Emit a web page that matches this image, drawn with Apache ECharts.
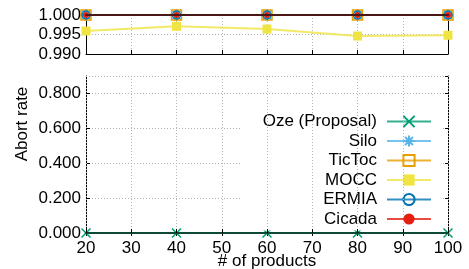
<!DOCTYPE html>
<html>
<head>
<meta charset="utf-8">
<script src="https://cdn.jsdelivr.net/npm/echarts@6/dist/echarts.min.js"></script>
<style>
  html, body { margin: 0; padding: 0; background: #fff; }
  #main { width: 469px; height: 269px; }
</style>
</head>
<body>
<div id="main"></div>
<script>
// 数据
var products = [20, 40, 60, 80, 100];
var ozeRate = [0, 0, 0, 0, 0];
var siloRate = [1.000, 1.000, 1.000, 1.000, 1.000];
var tictocRate = [1.000, 1.000, 1.000, 1.000, 1.000];
var moccRate = [0.9959, 0.9971, 0.9964, 0.9946, 0.9948];
var ermiaRate = [1.000, 1.000, 1.000, 1.000, 1.000];
var cicadaRate = [1.000, 1.000, 1.000, 1.000, 1.000];

var FONT = 'Liberation Sans';
var gridLine = { show: true, lineStyle: { color: '#b4b4b4', width: 1, type: [1, 2] } };
var blackLine = { show: true, lineStyle: { color: '#000', width: 1 } };
var inTick = { show: true, inside: true, length: 4, lineStyle: { color: '#000' } };
var tickOnly = { show: true, inside: true, length: 3, lineStyle: { color: '#000' } };
var labelStyle = { color: '#000', fontFamily: FONT, fontSize: 17 };

var crossPath = 'path://M0,0L10,10M10,0L0,10';
var starPath = 'path://M5,0L5,10M0,5L10,5M1.5,1.5L8.5,8.5M8.5,1.5L1.5,8.5';

function pairs(vals) {
    return products.map(function (p, i) { return [p, vals[i]]; });
}

function mkSeries(name, vals, color, symbol, size, hollow, grid) {
    return {
        type: 'line',
        name: name,
        xAxisIndex: grid == 0 ? 0 : 2,
        yAxisIndex: grid == 0 ? 0 : 2,
        data: pairs(vals),
        symbol: symbol,
        symbolSize: size,
        animation: false,
        lineStyle: { color: color, width: 2, opacity: 0.8 },
        itemStyle: {
            color: hollow ? 'rgba(0,0,0,0)' : color,
            borderColor: color,
            borderWidth: hollow ? 1.5 : 0
        },
        emphasis: { disabled: true }
    };
}

var myChart = echarts.init(document.getElementById('main'), null, { renderer: 'canvas' });

var xBase = { type: 'value', min: 20, max: 100, interval: 10 };

var option = {
    backgroundColor: '#fff',
    animation: false,
    textStyle: { fontFamily: FONT },
    grid: [
        { left: 86, right: 21, top: 15, height: 39, outerBoundsMode: 'none', containLabel: false },
        { left: 86, right: 21, top: 76, bottom: 36, outerBoundsMode: 'none', containLabel: false }
    ],
    xAxis: [
        Object.assign({}, xBase, {
            gridIndex: 0, position: 'bottom',
            axisLine: blackLine, axisTick: inTick, axisLabel: { show: false }, splitLine: gridLine
        }),
        Object.assign({}, xBase, {
            gridIndex: 0, position: 'top', z: 10,
            axisLine: { show: true, lineStyle: { color: '#4a1616', width: 2 } },
            axisTick: { show: false }, axisLabel: { show: false }, splitLine: { show: false }
        }),
        Object.assign({}, xBase, {
            gridIndex: 1, position: 'bottom', z: 10,
            axisLine: { show: true, lineStyle: { color: '#0d4a36', width: 2 } },
            axisTick: inTick,
            axisLabel: Object.assign({ margin: 7 }, labelStyle),
            splitLine: gridLine,
            name: '# of products', nameLocation: 'middle', nameGap: 20, nameMoveOverlap: false,
            nameTextStyle: labelStyle
        }),
        Object.assign({}, xBase, {
            gridIndex: 1, position: 'top',
            axisLine: blackLine, axisTick: tickOnly, axisLabel: { show: false }, splitLine: { show: false }
        })
    ],
    yAxis: [
        {
            type: 'value', gridIndex: 0, min: 0.99, max: 1.0, interval: 0.005,
            axisLine: blackLine, axisTick: inTick,
            axisLabel: Object.assign({ margin: 5, formatter: function (v) { return v.toFixed(3); } }, labelStyle),
            splitLine: gridLine
        },
        {
            type: 'value', gridIndex: 0, position: 'right', min: 0.99, max: 1.0, interval: 0.005,
            axisLine: blackLine, axisTick: tickOnly, axisLabel: { show: false }, splitLine: { show: false }
        },
        {
            type: 'value', gridIndex: 1, min: 0, max: 0.9, interval: 0.2,
            axisLine: blackLine, axisTick: inTick,
            axisLabel: Object.assign({
                margin: 5, showMaxLabel: false,
                formatter: function (v) { return v > 0.85 ? '' : v.toFixed(3); }
            }, labelStyle),
            splitLine: gridLine
        },
        {
            type: 'value', gridIndex: 1, position: 'right', min: 0, max: 0.9, interval: 0.2,
            axisLine: blackLine, axisTick: tickOnly, axisLabel: { show: false }, splitLine: { show: false }
        }
    ],
    legend: {
        orient: 'vertical',
        align: 'right',
        right: 27,
        top: 106,
        padding: [7, 10, 3, 21],
        backgroundColor: '#fff',
        itemWidth: 44,
        itemHeight: 14,
        itemGap: 2.5,
        selectedMode: false,
        textStyle: { color: '#000', fontFamily: FONT, fontSize: 17, lineHeight: 14, padding: [0, 5, 0, 0] },
        data: ['Oze (Proposal)', 'Silo', 'TicToc', 'MOCC', 'ERMIA', 'Cicada']
    },
    graphic: [{
        type: 'text',
        x: 22, y: 124,
        rotation: Math.PI / 2,
        style: { text: 'Abort rate', fill: '#000', font: '17px "Liberation Sans"', align: 'center', verticalAlign: 'middle' }
    }],
    series: [
        mkSeries('Oze (Proposal)', ozeRate, '#009E73', crossPath, 9, true, 1),
        mkSeries('Silo', siloRate, '#56B4E9', starPath, 12, true, 0),
        mkSeries('TicToc', tictocRate, '#E69F00', 'rect', 10, true, 0),
        mkSeries('MOCC', moccRate, '#F0E442', 'rect', 9, false, 0),
        mkSeries('ERMIA', ermiaRate, '#0072B2', 'circle', 8, true, 0),
        mkSeries('Cicada', cicadaRate, '#E51E10', 'circle', 6, false, 0)
    ]
};

myChart.setOption(option);
</script>
</body>
</html>
